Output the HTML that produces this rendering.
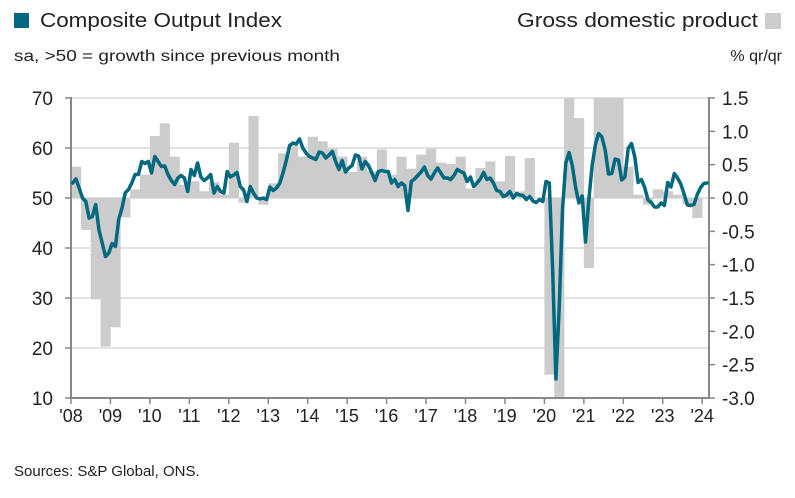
<!DOCTYPE html>
<html><head><meta charset="utf-8"><style>
body{margin:0;background:#fff;}
svg{display:block;font-family:"Liberation Sans",sans-serif;}
</style></head><body>
<svg id="chart" width="795" height="498" viewBox="0 0 795 498">
<rect x="14" y="13" width="15" height="15" fill="#00687f"/>
<text x="40" y="27" font-size="20" fill="#222" textLength="242" lengthAdjust="spacingAndGlyphs">Composite Output Index</text>
<text x="14" y="61" font-size="16" fill="#222" textLength="326" lengthAdjust="spacingAndGlyphs">sa, &gt;50 = growth since previous month</text>
<text x="517" y="27" font-size="20" fill="#222" textLength="241" lengthAdjust="spacingAndGlyphs">Gross domestic product</text>
<rect x="765" y="13" width="16" height="16" fill="#cccccc"/>
<text x="782" y="61" font-size="16" fill="#222" text-anchor="end">% qr/qr</text>
<g id="grid"></g><g id="bars"></g><g id="axes"></g><g id="line"></g>
<text x="14" y="476" font-size="15" fill="#222">Sources: S&amp;P Global, ONS.</text>
</svg>
<script>
const yearLabels=["'08","'09","'10","'11","'12","'13","'14","'15","'16","'17","'18","'19","'20","'21","'22","'23","'24"];
const leftTicks=[10,20,30,40,50,60,70];
const rightTicks=[-3.0,-2.5,-2.0,-1.5,-1.0,-0.5,0.0,0.5,1.0,1.5];
const gdp=[0.47,-0.48,-1.52,-2.23,-1.94,-0.29,0.13,0.35,0.93,1.12,0.62,0.2,
0.25,0.1,0.24,0.05,0.83,-0.07,1.23,-0.1,0.22,0.67,0.8,0.62,
0.92,0.85,0.74,0.62,0.39,0.62,0.4,0.73,0.35,0.62,0.44,0.65,
0.74,0.53,0.51,0.62,0.14,0.45,0.55,0.25,0.63,0.1,0.6,0.0,
-2.65,-20,16,1.2,-1.05,6,1.7,1.5,0.47,0.05,-0.1,0.13,0.1,0.05,-0.1,-0.3];
const pmi=[53,53.8,52,50,49.3,46,46.3,48.7,43.7,41,38.3,39,
40.9,40.3,45.7,48,51,51.7,53,54.7,54.7,57.3,56.9,57.3,
55,58.3,57.3,56.3,56.4,54.7,53.5,52.7,54,54.5,54,51.3,
55.7,54.5,57,54.2,53.5,54,54.7,51,52.3,51.3,51,55.3,
54.2,54.6,55.1,52.3,51.6,49.3,52.3,51,50,49.8,50,49.7,
52.2,51.5,52,53,55,57.5,60.5,61,60.8,61.8,60,59,
58.3,58,57.7,59.2,59,58,58.6,59.3,57.3,55.7,57.5,55.2,
56,56.5,58.6,58.4,55.8,57.3,56.5,55,53.5,55.3,55.5,55.3,
55.3,53,53.7,52.3,53,52.5,47.5,53.3,53.8,54.5,55.2,56.2,
54.5,53.8,55,56,55,54,54,53.7,54.5,55.7,55.3,55,
53.3,54.2,52.3,53,53.8,55.1,53.7,54,53,51.5,51.3,50.3,
50.6,51.3,50,50.9,50.6,50.5,49.7,50.3,49.4,49.1,49.7,49.3,
53.3,53,36,13.8,28,47.7,57,59.1,56.5,52.1,49,50.4,
41.2,49.6,56.4,60.7,62.9,62.2,59.6,54.8,54.9,57.8,57.6,53.6,
54.2,59.9,60.9,58.2,53.1,53.7,52.1,49.6,49.1,48.2,48.2,49,
48.5,53.1,52.2,54.9,54,52.8,50.8,48.6,48.5,48.7,50.7,52.1,
52.9,53.0];
const X0=71,X1=709,YT=98,YB=398,yrW=39.45;
const yL=v=>YT+(70-v)*5;
const yR=v=>YT+(1.5-v)*(300/4.5);
const xYear=i=>X0+i*yrW;
const xQ=i=>X0+i*yrW/4;
const xM=i=>X0+(i+0.5)*yrW/12;
const NS="http://www.w3.org/2000/svg";
function mk(tag,parent,attrs){const e=document.createElementNS(NS,tag);for(const k in attrs)e.setAttribute(k,attrs[k]);parent.appendChild(e);return e;}
const grid=document.getElementById('grid'),bars=document.getElementById('bars'),axes=document.getElementById('axes'),lineG=document.getElementById('line');
leftTicks.forEach(v=>{
 if(v>10){const g=mk('line',grid,{x1:X0,x2:X1,y1:yL(v),y2:yL(v),stroke:'#d9d9d9','stroke-width':1.5});
 
 }
 const t=mk('line',axes,{x1:X0-6,x2:X0,y1:yL(v),y2:yL(v),stroke:'#888','stroke-width':1.5});
 
 
 const l=mk('text',axes,{x:53,y:yL(v)+7,'font-size':19,'text-anchor':'end',fill:'#222'});l.textContent=v;
 
 
});
rightTicks.forEach(v=>{
 const t=mk('line',axes,{x1:X1,x2:X1+6,y1:yR(v),y2:yR(v),stroke:'#888','stroke-width':1.5});
 
 
 const l=mk('text',axes,{x:722,y:yR(v)+7,'font-size':19,fill:'#222'});l.textContent=v.toFixed(1);
 
 
});
gdp.forEach((v,i)=>{
 const c=Math.max(-3,Math.min(1.5,v));const y0=yR(0),y1=yR(c);
 const r=mk('rect',bars,{x:xQ(i),width:yrW/4+0.3,y:Math.min(y0,y1),height:Math.abs(y1-y0),fill:'#cccccc'});
 
 
});
yearLabels.forEach((s,i)=>{
 const t=mk('line',axes,{x1:xYear(i),x2:xYear(i),y1:YB,y2:YB+6,stroke:'#888','stroke-width':1.5});
 
 
 const l=mk('text',axes,{x:xYear(i),y:YB+24,'font-size':18,'text-anchor':'middle',fill:'#222'});l.textContent=s;
 
 
});
const ax=mk('path',axes,{d:`M${X0},${YT-1}V${YB}H${X1}V${YT-1}`,fill:'none',stroke:'#888','stroke-width':2});


const p=mk('path',lineG,{d:pmi.map((v,i)=>(i?'L':'M')+xM(i).toFixed(1)+','+yL(v).toFixed(1)).join(''),fill:'none',stroke:'#00687f','stroke-width':3.5,'stroke-linejoin':'round','stroke-linecap':'round'});


</script>
</body></html>
